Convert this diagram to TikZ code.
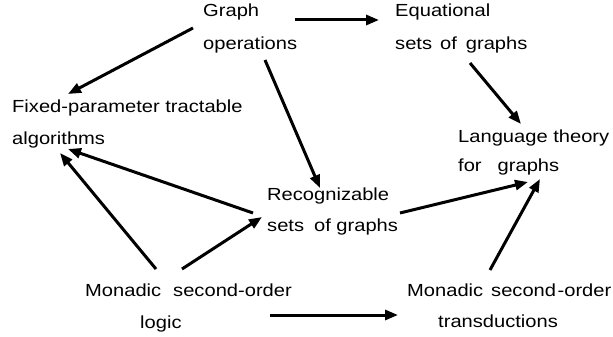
\documentclass[tikz,border=0pt]{standalone}
\usepackage{fontspec}
\setmainfont{Liberation Sans}[FakeStretch=1.15]
\usetikzlibrary{arrows.meta}
\begin{document}
\begin{tikzpicture}[x=1pt,y=-1pt,
  lbl/.style={anchor=base west,inner sep=0pt,font=\fontsize{17.5}{20}\selectfont},
  arr/.style={line width=3pt,-{Triangle[length=13pt,width=10pt]}}]
\useasboundingbox (0,0) rectangle (613,337);
% texts
\node[lbl] (go1) at (203,17) {Graph};
\node[lbl] (go2) at (203,50) {operations};
\node[lbl] (eq1) at (395,17) {Equational};
\node[lbl] (eq2) at (395,49) {sets\hspace{8pt}of\hspace{9pt}graphs};
\node[lbl] (fp1) at (12,112) {Fixed-parameter tractable};
\node[lbl] (fp2) at (12,144) {algorithms};
\node[lbl] (lt1) at (458,142) {Language theory};
\node[lbl] (lt2) at (458,171) {for\hspace{16pt}graphs};
\node[lbl] (rc1) at (267,200) {Recognizable};
\node[lbl] (rc2) at (267,231) {sets\hspace{10pt}of graphs};
\node[lbl] (ml1) at (85,296) {Monadic\hspace{12pt}second-order};
\node[lbl] (ml2) at (140,328) {logic};
\node[lbl] (mt1) at (407,296) {Monadic\hspace{8pt}second\hspace{1.5pt}-order};
\node[lbl] (mt2) at (438,327) {transductions};
% connector end points
\coordinate (a1s) at (295,20);  \coordinate (a1e) at (379,20);
\coordinate (a2s) at (193,28);  \coordinate (a2e) at (68,94);
\coordinate (a3s) at (265,60);  \coordinate (a3e) at (320,188);
\coordinate (a4s) at (470,63);  \coordinate (a4e) at (521,124);
\coordinate (a5s) at (253,213); \coordinate (a5e) at (68,149);
\coordinate (a6s) at (156,269); \coordinate (a6e) at (60,153);
\coordinate (a7s) at (182,269); \coordinate (a7e) at (262,217);
\coordinate (a8s) at (400,213); \coordinate (a8e) at (528,182);
\coordinate (a9s) at (490,270); \coordinate (a9e) at (540,179);
\coordinate (a10s) at (270,315); \coordinate (a10e) at (398,315);
\draw[arr] (a1s) -- (a1e);
\draw[arr] (a2s) -- (a2e);
\draw[arr] (a3s) -- (a3e);
\draw[arr] (a4s) -- (a4e);
\draw[arr] (a5s) -- (a5e);
\draw[arr] (a6s) -- (a6e);
\draw[arr] (a7s) -- (a7e);
\draw[arr] (a8s) -- (a8e);
\draw[arr] (a9s) -- (a9e);
\draw[arr] (a10s) -- (a10e);
\end{tikzpicture}
\end{document}
